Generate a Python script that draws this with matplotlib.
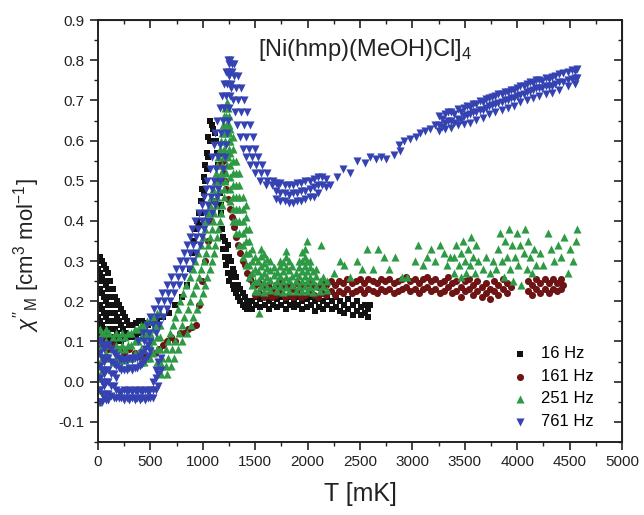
import matplotlib
matplotlib.use("Agg")
import matplotlib.pyplot as plt
from matplotlib.ticker import MultipleLocator

plt.rcParams['font.family'] = ['Liberation Sans', 'DejaVu Sans']
plt.rcParams['mathtext.fontset'] = 'custom'
plt.rcParams['mathtext.rm'] = 'Liberation Sans'
plt.rcParams['mathtext.it'] = 'Liberation Sans:italic'

# values.  cols_* : (T [mK], [chi'' values]),
# rows_* : (chi'', [T values]) for the steep parts of the curves
cols_16 = [
    (0, [0.31, 0.28, 0.25, 0.22, 0.19, 0.16, 0.13, 0.10]), (20, [0.31, 0.27, 0.23, 0.19, 0.15, 0.12]),
    (40, [0.30, 0.26, 0.22, 0.18, 0.14, 0.11]), (60, [0.29, 0.25, 0.21, 0.17, 0.13, 0.10]),
    (80, [0.28, 0.24, 0.20, 0.16, 0.12]), (100, [0.27, 0.23, 0.19, 0.15, 0.11]),
    (120, [0.25, 0.21, 0.17, 0.13, 0.10]), (140, [0.23, 0.19, 0.15, 0.11]),
    (160, [0.21, 0.17, 0.13, 0.10]), (180, [0.20, 0.16, 0.12]), (200, [0.19, 0.15, 0.11]),
    (220, [0.18, 0.14, 0.10]), (240, [0.17, 0.13, 0.105]), (260, [0.16, 0.12]), (280, [0.15, 0.115]),
    (300, [0.14, 0.11]), (330, [0.14, 0.11]), (360, [0.145, 0.115]), (390, [0.15, 0.12]),
    (420, [0.15, 0.125]), (450, [0.145, 0.13]), (480, [0.14]), (510, [0.145]),
    (560, [0.15]), (620, [0.16]), (680, [0.17]), (740, [0.19]), (800, [0.21]), (850, [0.24]),
    (880, [0.28]), (900, [0.32]), (920, [0.35]), (940, [0.38]), (950, [0.40]),
    (965, [0.42, 0.39]), (980, [0.45, 0.42]), (995, [0.48, 0.45]), (1010, [0.51, 0.47]),
    (1025, [0.54, 0.50]), (1040, [0.57, 0.53]), (1055, [0.61, 0.56]), (1070, [0.65, 0.60]),
    (1085, [0.64, 0.60]), (1100, [0.63, 0.60]), (1115, [0.62]), (1130, [0.60]), (1140, [0.57]),
    (1150, [0.54]), (1160, [0.50, 0.47]), (1170, [0.44, 0.42]), (1180, [0.38]),
    (1195, [0.36, 0.33]), (1210, [0.35, 0.31]), (1225, [0.33, 0.29]), (1240, [0.34, 0.30, 0.27]),
    (1255, [0.31, 0.27, 0.25]), (1270, [0.30, 0.26]), (1285, [0.28, 0.24]), (1300, [0.27, 0.23]),
    (1320, [0.26, 0.22]), (1340, [0.24, 0.21]), (1360, [0.23, 0.20]), (1380, [0.22, 0.19]),
    (1400, [0.21, 0.185]), (1420, [0.20, 0.18]), (1440, [0.195]),
    (1470, [0.20, 0.18]), (1510, [0.21, 0.19]), (1550, [0.205, 0.185]), (1590, [0.21, 0.19]),
    (1630, [0.20, 0.18]), (1670, [0.21, 0.19]), (1710, [0.205, 0.185]), (1750, [0.21, 0.19]),
    (1790, [0.20, 0.18]), (1830, [0.21, 0.19]), (1870, [0.20, 0.185]), (1910, [0.21, 0.19]),
    (1950, [0.20, 0.18]), (1990, [0.205, 0.185]), (2030, [0.21, 0.19]), (2070, [0.20, 0.175]),
    (2110, [0.205, 0.185]), (2150, [0.20, 0.18]), (2190, [0.21, 0.19]), (2230, [0.20, 0.18]),
    (2270, [0.21, 0.185]), (2310, [0.20, 0.175]), (2350, [0.19, 0.17]), (2390, [0.205, 0.18]),
    (2430, [0.19, 0.165]), (2470, [0.20, 0.175]), (2510, [0.185, 0.165]), (2550, [0.19, 0.17]),
    (2580, [0.18, 0.16]), (2600, [0.19]),
]

cols_161 = [
    (0, [0.10]), (30, [0.09]), (60, [0.10]), (100, [0.08]), (150, [0.09]), (200, [0.08]),
    (250, [0.07]), (300, [0.08]), (350, [0.07]), (390, [0.065]), (420, [0.06]), (450, [0.065]),
    (480, [0.06]), (540, [0.07]), (580, [0.08]), (620, [0.09]), (660, [0.10]), (700, [0.11]),
    (740, [0.10]), (780, [0.12]), (820, [0.12]), (860, [0.13]), (900, [0.135]), (940, [0.14]),
    (960, [0.19]), (990, [0.25]), (1020, [0.30]), (1050, [0.35]), (1080, [0.40]), (1110, [0.45]),
    (1140, [0.50]), (1165, [0.54]), (1180, [0.57]), (1192, [0.55]), (1202, [0.52]), (1212, [0.50]),
    (1222, [0.48]), (1240, [0.455]), (1260, [0.43]), (1280, [0.41]), (1300, [0.385]), (1320, [0.36]),
    (1340, [0.34]), (1360, [0.32]), (1380, [0.30]), (1400, [0.29]), (1425, [0.27]), (1450, [0.255]),
    (1475, [0.245]),
    (1500, [0.24, 0.215]), (1540, [0.245, 0.22]), (1580, [0.235, 0.21]), (1620, [0.24, 0.215]),
    (1660, [0.23, 0.21]), (1700, [0.24, 0.215]), (1740, [0.245, 0.22]), (1780, [0.235, 0.21]),
    (1820, [0.24, 0.215]), (1860, [0.23, 0.21]), (1900, [0.245, 0.22]), (1940, [0.235, 0.21]),
    (1980, [0.24, 0.215]), (2020, [0.245, 0.22]), (2060, [0.24, 0.215]), (2100, [0.235, 0.21]),
    (2140, [0.245, 0.22]), (2180, [0.24, 0.215]), (2220, [0.25, 0.225]), (2260, [0.24, 0.215]),
    (2300, [0.25, 0.225]), (2340, [0.245, 0.22]), (2380, [0.255, 0.23]), (2420, [0.245, 0.22]),
    (2460, [0.25, 0.225]), (2500, [0.255, 0.23]), (2540, [0.245, 0.22]), (2580, [0.255, 0.23]),
    (2620, [0.25, 0.225]), (2660, [0.245, 0.22]), (2700, [0.255, 0.23]), (2740, [0.25, 0.225]),
    (2780, [0.255, 0.23]), (2820, [0.245, 0.22]), (2860, [0.25, 0.225]), (2900, [0.255, 0.23]),
    (2940, [0.26, 0.235]), (2980, [0.25, 0.225]), (3020, [0.255, 0.23]), (3060, [0.245, 0.22]),
    (3100, [0.255, 0.23]), (3140, [0.26, 0.235]), (3180, [0.25, 0.225]), (3220, [0.255, 0.23]),
    (3260, [0.245, 0.22]), (3300, [0.25, 0.225]), (3340, [0.26, 0.235]), (3380, [0.245, 0.22]),
    (3420, [0.25, 0.225]), (3460, [0.235, 0.21]), (3500, [0.25, 0.225]), (3540, [0.255, 0.23]),
    (3580, [0.24, 0.215]), (3620, [0.25, 0.225]), (3660, [0.235, 0.21]), (3700, [0.245, 0.22]),
    (3740, [0.23, 0.205]), (3780, [0.25, 0.225]), (3820, [0.24, 0.215]), (3860, [0.255, 0.23]),
    (3900, [0.245, 0.22]), (3940, [0.235]),
    (4100, [0.25, 0.225]), (4140, [0.24, 0.215]), (4180, [0.255, 0.23]), (4220, [0.245, 0.22]),
    (4260, [0.255, 0.23]), (4300, [0.245, 0.22]), (4340, [0.255, 0.23]), (4380, [0.245, 0.225]),
    (4420, [0.255, 0.23]), (4440, [0.24]),
]

cols_251 = [
    (0, [0.13, 0.10, 0.07, 0.04, 0.01, -0.02, -0.05]), (20, [0.13, 0.10, 0.07, 0.04, 0.01]),
    (40, [0.12, 0.09, 0.06, 0.03]), (60, [0.12, 0.09, 0.06]), (80, [0.13, 0.10, 0.07]),
    (110, [0.12, 0.09, 0.06]), (140, [0.11, 0.08, 0.05]), (170, [0.12, 0.09, 0.06]),
    (200, [0.11, 0.08, 0.055]), (230, [0.12, 0.09, 0.06]), (260, [0.11, 0.08, 0.055]),
    (290, [0.12, 0.09, 0.06]), (320, [0.12, 0.09, 0.06]), (350, [0.13, 0.10, 0.07]),
    (380, [0.13, 0.10, 0.07]), (410, [0.14, 0.11, 0.08, 0.05]), (440, [0.14, 0.11, 0.08, 0.05]),
    (470, [0.15, 0.12, 0.09, 0.06]), (500, [0.15, 0.12, 0.09, 0.06]), (530, [0.16, 0.13, 0.10, 0.07]),
    (560, [0.17, 0.14, 0.11, 0.08, 0.05]), (590, [0.17, 0.14, 0.11, 0.08, 0.05]),
    (1260, [0.45, 0.48, 0.51, 0.54, 0.57, 0.60, 0.63]),
    (1290, [0.40, 0.43, 0.46, 0.49, 0.52, 0.55, 0.58, 0.61]),
    (1320, [0.37, 0.40, 0.43, 0.46, 0.49, 0.52, 0.55]),
    (1350, [0.34, 0.37, 0.40, 0.43, 0.46, 0.49, 0.52]),
    (1380, [0.31, 0.34, 0.37, 0.40, 0.43, 0.46]), (1410, [0.29, 0.32, 0.35, 0.38, 0.41, 0.44]),
    (1440, [0.26, 0.29, 0.32, 0.35, 0.38]), (1470, [0.24, 0.27, 0.30, 0.33]),
    (1500, [0.225, 0.25, 0.28, 0.31]),
    (1530, [0.225, 0.25, 0.275, 0.30]), (1555, [0.237, 0.262, 0.287, 0.312, 0.33]),
    (1585, [0.222, 0.248, 0.27, 0.295, 0.318]), (1615, [0.235, 0.26, 0.283, 0.305]),
    (1645, [0.228, 0.252, 0.277, 0.30]), (1675, [0.24, 0.265, 0.285]),
    (1705, [0.226, 0.25, 0.272]), (1735, [0.238, 0.262, 0.287, 0.30]),
    (1765, [0.224, 0.25, 0.275, 0.298]), (1795, [0.236, 0.26, 0.285, 0.31, 0.325]),
    (1825, [0.226, 0.252, 0.277, 0.30]), (1855, [0.24, 0.264, 0.288]),
    (1885, [0.225, 0.25, 0.27]), (1915, [0.237, 0.262, 0.285, 0.30]),
    (1945, [0.226, 0.25, 0.275, 0.30, 0.322]), (1975, [0.238, 0.262, 0.287, 0.31, 0.33]),
    (1995, [0.225, 0.25, 0.275, 0.30, 0.35]), (2025, [0.236, 0.26, 0.285, 0.30]),
    (2055, [0.224, 0.25, 0.275]), (2085, [0.238, 0.262, 0.28]), (2115, [0.226, 0.25]),
    (2130, [0.34]), (2150, [0.238, 0.26]), (2185, [0.228, 0.25]), (1540, [0.17]),
    (2250, [0.27]), (2310, [0.30]), (2350, [0.29]), (2400, [0.26]), (2470, [0.30]), (2520, [0.28]),
    (2570, [0.33]), (2620, [0.28]), (2670, [0.33]), (2730, [0.31]), (2780, [0.28]), (2830, [0.31]),
    (2900, [0.26]), (2950, [0.26]), (3020, [0.30]), (3050, [0.34]), (3100, [0.29]), (3140, [0.31]),
    (3180, [0.33]), (3220, [0.30]), (3260, [0.34]), (3300, [0.32]), (3330, [0.29]), (3360, [0.31]),
    (3400, [0.27, 0.31]), (3420, [0.34]), (3440, [0.29]), (3460, [0.26, 0.32]), (3480, [0.35]),
    (3500, [0.30]), (3510, [0.27]), (3530, [0.33]), (3550, [0.29]), (3560, [0.36]), (3580, [0.31]),
    (3600, [0.27]), (3610, [0.34]), (3630, [0.30]), (3670, [0.28]), (3700, [0.31]), (3740, [0.27]),
    (3770, [0.30]), (3800, [0.28]), (3820, [0.33]), (3840, [0.37]), (3850, [0.30]), (3870, [0.26]),
    (3880, [0.35]), (3900, [0.31]), (3920, [0.38]), (3930, [0.28]), (3950, [0.34]), (3960, [0.25]),
    (3980, [0.31]), (4000, [0.37]), (4010, [0.29]), (4030, [0.34]), (4040, [0.24]), (4060, [0.32]),
    (4070, [0.38]), (4090, [0.28]), (4100, [0.35]), (4120, [0.31]), (4140, [0.27]), (4160, [0.33]),
    (4180, [0.29]), (4220, [0.32]), (4250, [0.29]), (4290, [0.37]), (4320, [0.33]), (4350, [0.30]),
    (4390, [0.34]), (4420, [0.31]), (4450, [0.36]), (4480, [0.27]), (4500, [0.33]), (4530, [0.30]),
    (4560, [0.35]), (4570, [0.38]),
]

rows_251 = [
    (0.02, [600, 660]), (0.04, [600, 650, 700]), (0.06, [615, 670, 725]), (0.08, [645, 705, 765]),
    (0.10, [665, 735, 805]), (0.12, [690, 770, 850]), (0.14, [715, 800, 885]), (0.16, [740, 825, 910]),
    (0.18, [765, 855, 945]), (0.20, [785, 880, 975]), (0.22, [815, 910, 1005]), (0.24, [845, 935, 1025]),
    (0.26, [875, 960, 1045]), (0.28, [905, 985, 1065]), (0.30, [930, 1010, 1090]),
    (0.32, [955, 1030, 1105]), (0.34, [980, 1050, 1120]), (0.36, [1000, 1068, 1135]),
    (0.38, [1020, 1085, 1150]), (0.40, [1035, 1098, 1160]), (0.42, [1050, 1110, 1170]),
    (0.44, [1065, 1125, 1185]), (0.46, [1080, 1140, 1200]), (0.48, [1100, 1152, 1205]),
    (0.50, [1115, 1165, 1215]), (0.52, [1125, 1175, 1225]), (0.54, [1135, 1185, 1235]),
    (0.56, [1150, 1195, 1240]), (0.58, [1160, 1205, 1250]), (0.60, [1170, 1210, 1250]),
    (0.62, [1180, 1215, 1250]), (0.64, [1190, 1220, 1250]), (0.66, [1200, 1225, 1250]),
    (0.68, [1215, 1240]), (0.695, [1232]),
]

cols_761 = [
    (0, [0.10, 0.07, 0.04, 0.01, -0.02, -0.05]), (20, [0.10, 0.07, 0.04, 0.01, -0.02, -0.05]),
    (40, [0.09, 0.06, 0.03, 0.0, -0.03, -0.05]), (60, [0.08, 0.05, 0.02, -0.01, -0.04]),
    (80, [0.09, 0.06, 0.03, 0.0, -0.03, -0.045]), (100, [0.09, 0.06, 0.03, 0.0, -0.03, -0.045]),
    (125, [0.08, 0.05, 0.02, -0.01, -0.035]), (150, [0.07, 0.045, 0.02, -0.01, -0.04]),
    (175, [0.065, 0.04, 0.01, -0.02, -0.04]), (200, [0.06, 0.035, -0.025, -0.04]),
    (225, [0.055, 0.03, -0.025, -0.04]), (250, [0.055, 0.03, -0.02, -0.045]),
    (275, [0.055, 0.03, -0.025, -0.04]), (300, [0.06, 0.035, -0.02, -0.045]),
    (325, [0.055, 0.03, -0.025, -0.04]), (350, [0.06, 0.035, -0.02, -0.045]),
    (375, [0.06, 0.035, -0.025, -0.04]), (400, [0.065, 0.04, -0.02, -0.045]),
    (425, [0.07, 0.045, -0.025, -0.04]), (450, [0.08, 0.055, -0.02, -0.045]),
    (475, [0.09, 0.065, -0.025, -0.04]), (500, [0.075, -0.02, -0.04]), (525, [0.0, -0.02, -0.04]),
    (550, [0.03, 0.01, -0.02]), (575, [0.05, 0.02, -0.01]), (600, [0.06, 0.03]),
    (1700, [0.495, 0.475, 0.455]), (1740, [0.495, 0.47, 0.45]), (1780, [0.49, 0.47, 0.45]),
    (1820, [0.49, 0.465, 0.445]), (1860, [0.49, 0.47, 0.445]), (1900, [0.495, 0.47, 0.45]),
    (1940, [0.495, 0.475, 0.45]), (1980, [0.50, 0.475, 0.455]), (2020, [0.50, 0.48, 0.46]),
    (2060, [0.505, 0.485, 0.46]), (2100, [0.51, 0.49, 0.47]), (2140, [0.51, 0.49]),
    (2180, [0.505, 0.485]), (2213, [0.49]), (2280, [0.51]), (2340, [0.53]), (2400, [0.52]),
    (2470, [0.55]), (2550, [0.545]), (2600, [0.56]), (2650, [0.555]), (2700, [0.56]), (2750, [0.555]),
    (2820, [0.565]), (2870, [0.59]), (2880, [0.575]), (2920, [0.60]), (2980, [0.605]), (3030, [0.61]),
    (3070, [0.62]), (3120, [0.625]), (3170, [0.63]), (3220, [0.64]),
    (3250, [0.66, 0.64, 0.625]), (3280, [0.655, 0.635]), (3310, [0.665, 0.645, 0.63]),
    (3340, [0.67, 0.648]), (3370, [0.67, 0.65, 0.632]), (3400, [0.665, 0.645]),
    (3430, [0.678, 0.655, 0.64]), (3460, [0.672, 0.652]), (3490, [0.682, 0.66, 0.642]),
    (3520, [0.685, 0.663]), (3550, [0.683, 0.667, 0.645]), (3580, [0.692, 0.67]),
    (3610, [0.69, 0.672, 0.652]), (3640, [0.698, 0.675]), (3670, [0.695, 0.677, 0.657]),
    (3700, [0.703, 0.68]), (3730, [0.705, 0.686, 0.665]), (3760, [0.709, 0.688]),
    (3790, [0.712, 0.69, 0.672]), (3820, [0.715, 0.694]), (3850, [0.716, 0.697, 0.676]),
    (3880, [0.722, 0.70]), (3910, [0.72, 0.702, 0.682]), (3940, [0.727, 0.705]),
    (3970, [0.726, 0.706, 0.687]), (4000, [0.732, 0.71]), (4030, [0.735, 0.714, 0.695]),
    (4060, [0.737, 0.716]), (4090, [0.74, 0.72, 0.70]), (4120, [0.746, 0.724]),
    (4150, [0.744, 0.726, 0.705]), (4180, [0.752, 0.73]), (4210, [0.75, 0.73, 0.712]),
    (4240, [0.748, 0.732]), (4270, [0.757, 0.735, 0.716]), (4300, [0.753, 0.737]),
    (4330, [0.758, 0.736, 0.718]), (4360, [0.762, 0.741]), (4400, [0.765, 0.745, 0.725]),
    (4440, [0.768, 0.746]), (4480, [0.77, 0.75, 0.735]), (4520, [0.776, 0.754]),
    (4550, [0.774, 0.755, 0.74]), (4570, [0.778, 0.757]),
]

rows_761 = [
    (0.10, [380, 440, 500]), (0.12, [430, 490, 550]), (0.14, [465, 525, 585]), (0.16, [500, 560, 620]),
    (0.18, [535, 595, 655]), (0.20, [570, 630, 690]), (0.22, [610, 670, 730]), (0.24, [655, 715, 775]),
    (0.26, [700, 760, 820]), (0.28, [745, 805, 865]), (0.30, [785, 845, 905]), (0.32, [820, 880, 940]),
    (0.34, [850, 910, 970]), (0.36, [875, 935, 995]), (0.38, [895, 955, 1015]),
    (0.40, [930, 990, 1050]), (0.42, [965, 1025, 1085]), (0.44, [995, 1055, 1115]),
    (0.46, [1015, 1075, 1135]), (0.48, [1030, 1090, 1150]), (0.50, [1045, 1105, 1165]),
    (0.53, [1070, 1130, 1190]), (0.56, [1090, 1150, 1210]), (0.59, [1105, 1165, 1225]),
    (0.62, [1120, 1175, 1230]), (0.65, [1140, 1190, 1240]), (0.68, [1160, 1205, 1250]),
    (0.71, [1180, 1220, 1260]), (0.74, [1200, 1235, 1270]), (0.77, [1220, 1248, 1275]),
    (0.80, [1240, 1258]),
    (0.79, [1250, 1275, 1300]), (0.76, [1250, 1295, 1340]), (0.73, [1265, 1315, 1365]),
    (0.70, [1285, 1340, 1395]), (0.67, [1310, 1365, 1420]), (0.64, [1330, 1390, 1450]),
    (0.61, [1355, 1415, 1475]), (0.58, [1380, 1440, 1500]), (0.56, [1410, 1470, 1530]),
    (0.54, [1450, 1510, 1570]), (0.52, [1495, 1555, 1615]), (0.50, [1550, 1610, 1670]),
    (0.49, [1600, 1660, 1720]),
]


def unpack(cols, rows=()):
    t, chi = [], []
    for x, ys in cols:
        t += [x] * len(ys)
        chi += ys
    for y, xs in rows:
        t += xs
        chi += [y] * len(xs)
    return t, chi


series = [
    ('16 Hz', unpack(cols_16), 's', '#121212', 24),
    ('161 Hz', unpack(cols_161), 'o', '#6e1414', 26),
    ('251 Hz', unpack(cols_251, rows_251), '^', '#2f9a46', 34),
    ('761 Hz', unpack(cols_761, rows_761), 'v', '#3543b2', 34),
]

fig = plt.figure(figsize=(6.44, 5.15), dpi=100)
ax = fig.add_axes([0.152, 0.142, 0.814, 0.819])

for label, (t, chi), marker, color, size in series:
    ax.scatter(t, chi, marker=marker, s=size, c=color, linewidths=0, label=label)

ax.set_xlim(0, 5000)
ax.set_ylim(-0.15, 0.9)
ax.xaxis.set_major_locator(MultipleLocator(500))
ax.xaxis.set_minor_locator(MultipleLocator(250))
ax.yaxis.set_major_locator(MultipleLocator(0.1))
ax.yaxis.set_minor_locator(MultipleLocator(0.05))
ax.yaxis.set_major_formatter(plt.FuncFormatter(lambda v, p: f'{v:.1f}'.replace('-0.0', '0.0')))

ax.tick_params(which='major', direction='out', length=6, width=1.2, labelsize=11, colors='#222222')
ax.tick_params(which='minor', direction='out', length=3, width=1.0, colors='#222222')
for s in ax.spines.values():
    s.set_linewidth(1.4)
    s.set_color('#222222')

top = ax.secondary_xaxis('top')
top.xaxis.set_major_locator(MultipleLocator(500))
top.xaxis.set_minor_locator(MultipleLocator(250))
top.tick_params(which='major', direction='in', length=6, width=1.2, labeltop=False, colors='#222222')
top.tick_params(which='minor', direction='in', length=3, width=1.0, colors='#222222')
right = ax.secondary_yaxis('right')
right.yaxis.set_major_locator(MultipleLocator(0.1))
right.yaxis.set_minor_locator(MultipleLocator(0.05))
right.tick_params(which='major', direction='in', length=6, width=1.2, labelright=False, colors='#222222')
right.tick_params(which='minor', direction='in', length=3, width=1.0, colors='#222222')

ax.set_xlabel('T [mK]', fontsize=18, color='#222222')
ax.xaxis.set_label_coords(0.5, -0.095)
ax.set_ylabel(r"$\chi''_{\mathrm{M}}$ [cm$^{3}$ mol$^{-1}$]", fontsize=16, color='#222222')
ax.yaxis.set_label_coords(-0.107, 0.443)
ax.text(0.51, 0.929, r'[Ni(hmp)(MeOH)Cl]$_{4}$', transform=ax.transAxes,
        ha='center', va='center', fontsize=17, color='#222222')

ax.legend(loc='lower right', bbox_to_anchor=(0.975, -0.005), frameon=False, fontsize=12,
          handletextpad=0.5, labelspacing=0.45, markerscale=1.0, handlelength=1.6)

fig.savefig('out.png', dpi=100)
